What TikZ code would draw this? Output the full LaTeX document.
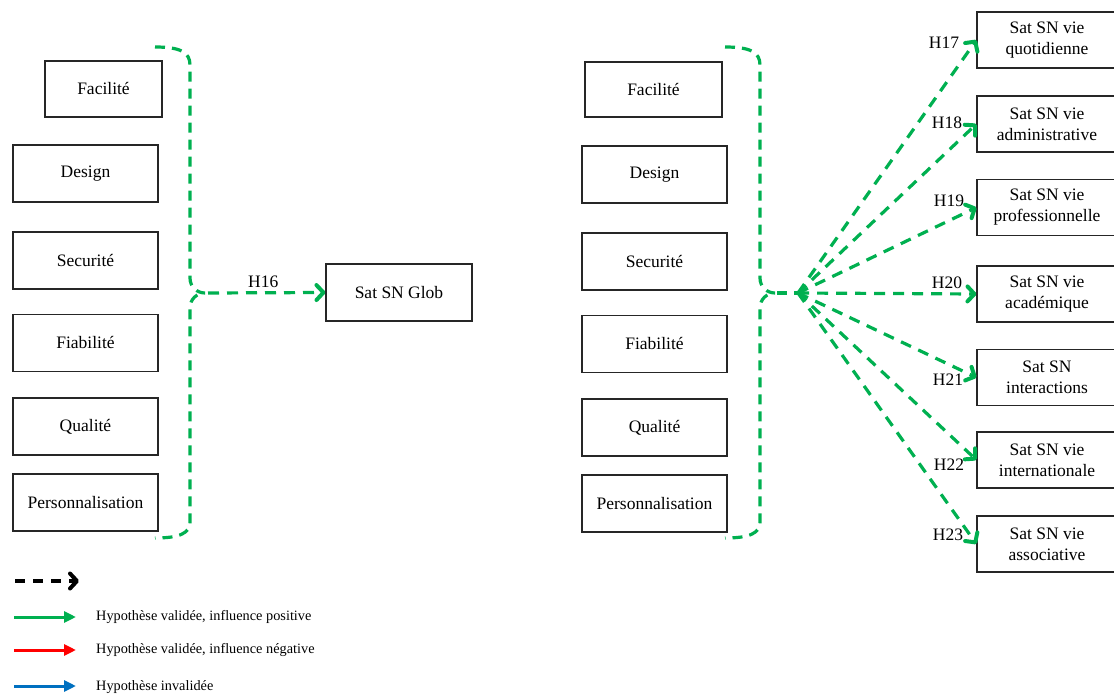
\documentclass[tikz,border=0pt]{standalone}
\usepackage{fontspec}
\setmainfont{Liberation Serif}
\usetikzlibrary{positioning, arrows.meta}
\definecolor{hsGreen}{HTML}{00B050}
\definecolor{hsRed}{HTML}{FF0000}
\definecolor{hsBlue}{HTML}{0070C0}
\definecolor{hsLine}{HTML}{262626}

\begin{document}
\begin{tikzpicture}[x=1pt, y=-1pt,
    hsBox/.style={draw=hsLine, line width=1.1pt, rectangle, inner sep=0pt, minimum width=145pt, minimum height=57pt, align=center, font=\fontsize{17.5}{21}\selectfont},
    hsTarget/.style={hsBox, minimum width=140pt, minimum height=56pt},
    hsArrow/.style={draw=hsGreen, line width=3.2pt, dash pattern=on 11pt off 8pt, -{Straight Barb[length=7pt, width=15pt, line width=4pt, round]}},
    hsBrace/.style={draw=hsGreen, line width=3.2pt, dash pattern=on 10pt off 7pt},
    hsLabel/.style={font=\fontsize{17.5}{21}\selectfont, inner sep=1pt},
    hsLegend/.style={font=\fontsize{14.3}{16}\selectfont, anchor=west, inner sep=0pt},
    hsKey/.style={line width=3pt, -{Triangle[length=12pt, width=11pt]}},
]
\useasboundingbox (0,0) rectangle (1114,695);
% left block
\node[hsBox, minimum width=117pt, minimum height=56pt] (facL) at (103.5, 89) {Facilité};
\node[hsBox] (desL) at (85.5, 173.5) {Design};
\node[hsBox] (secL) at (85.5, 260.5) {Securité};
\node[hsBox] (fiaL) at (85.5, 343) {Fiabilité};
\node[hsBox] (quaL) at (85.5, 426.5) {Qualité};
\node[hsBox] (perL) at (85.5, 502.5) {Personnalisation};
\draw[hsBrace] (155,47) .. controls (180,47) and (190,52) .. (190,65) -- (190,278)
    .. controls (190,287) and (197,293) .. (205,293)
    .. controls (197,293) and (190,299) .. (190,308) -- (190,522)
    .. controls (190,533) and (180,538) .. (155,538);
\coordinate (tipL) at (208, 293);
\node[hsBox, minimum width=146pt, minimum height=57pt] (glob) at (399, 292.5) {Sat SN Glob};
\draw[hsArrow] (tipL) -- node[hsLabel, above=2pt, pos=0.47] {H16} (glob.west);

% right block
\node[hsBox, minimum width=137pt, minimum height=55pt] (facR) at (653.5, 89.5) {Facilité};
\node[hsBox] (desR) at (654.5, 174.5) {Design};
\node[hsBox] (secR) at (654.5, 261.5) {Securité};
\node[hsBox] (fiaR) at (654.5, 344) {Fiabilité};
\node[hsBox] (quaR) at (654.5, 427.5) {Qualité};
\node[hsBox] (perR) at (654.5, 503.5) {Personnalisation};
\draw[hsBrace] (725,47) .. controls (750,47) and (760,52) .. (760,65) -- (760,278)
    .. controls (760,287) and (767,293) .. (775,293)
    .. controls (767,293) and (760,299) .. (760,308) -- (760,522)
    .. controls (760,533) and (750,538) .. (725,538);
\coordinate (tipR) at (777, 293);
\coordinate (hub) at (798, 293);
\draw[hsBrace] (tipR) -- (hub);

\node[hsTarget] (quo) at (1047, 40) {Sat SN vie\\quotidienne};
\node[hsTarget] (adm) at (1047, 124) {Sat SN vie\\administrative};
\node[hsTarget] (pro) at (1047, 207.5) {Sat SN vie\\professionnelle};
\node[hsTarget] (aca) at (1047, 294) {Sat SN vie\\académique};
\node[hsTarget] (int) at (1047, 377.5) {Sat SN\\interactions};
\node[hsTarget] (itn) at (1047, 460) {Sat SN vie\\internationale};
\node[hsTarget] (ass) at (1047, 544) {Sat SN vie\\associative};

\foreach \t in {quo, adm, pro, aca, int, itn, ass}
    \draw[hsArrow] (hub) -- (\t.west);

\node[hsLabel] at (944, 43) {H17};
\node[hsLabel] at (947, 123) {H18};
\node[hsLabel] at (949, 201) {H19};
\node[hsLabel] at (947, 283) {H20};
\node[hsLabel] at (948, 380) {H21};
\node[hsLabel] at (949, 465) {H22};
\node[hsLabel] at (948, 535) {H23};

% legend
\coordinate (k0a) at (15, 581);  \coordinate (k0b) at (79, 581);
\draw[line width=3.5pt, dash pattern=on 10pt off 8pt, -{Straight Barb[length=7pt, width=15pt, line width=4pt, round]}] (k0a) -- (k0b);
\coordinate (k1a) at (14, 617);  \coordinate (k1b) at (76, 617);
\draw[hsKey, hsGreen] (k1a) -- (k1b);
\node[hsLegend] (l1) at (96, 617) {Hypothèse validée, influence positive};
\coordinate (k2a) at (14, 650);  \coordinate (k2b) at (76, 650);
\draw[hsKey, hsRed] (k2a) -- (k2b);
\node[hsLegend] (l2) at (96, 650) {Hypothèse validée, influence négative};
\coordinate (k3a) at (14, 686);  \coordinate (k3b) at (76, 686);
\draw[hsKey, hsBlue] (k3a) -- (k3b);
\node[hsLegend] (l3) at (96, 687) {Hypothèse invalidée};
\end{tikzpicture}
\end{document}
